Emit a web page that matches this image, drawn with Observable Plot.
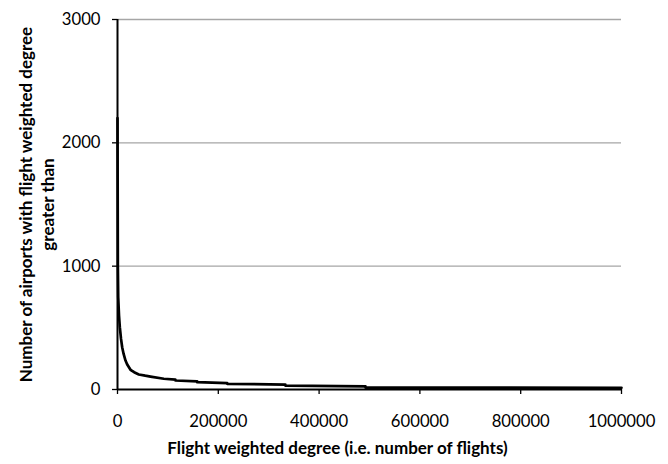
<!DOCTYPE html>
<html>
<head>
<meta charset="utf-8">
<script src="https://cdn.jsdelivr.net/npm/d3@7"></script>
<script src="https://cdn.jsdelivr.net/npm/@observablehq/plot@0.6"></script>
<style>
  html, body { margin: 0; padding: 0; background: #fff; }
  #chart { width: 668px; height: 464px; overflow: hidden; }
  svg { font-family: Lato, "Open Sans", sans-serif; }
</style>
</head>
<body>
<div id="chart"></div>
<script>
const degree = [0, 300, 700, 1400, 3000, 4600, 7000, 9300, 12000, 15900, 19000, 25800, 33000, 42300, 55000, 65500, 91900, 115000, 115000, 158000, 158000, 217600, 217600, 333000, 333000, 492000, 492000, 1000000];
const airports = [2200, 1700, 1000, 748, 600, 505, 410, 343, 290, 235, 205, 160, 140, 122, 112, 105, 87, 80, 73, 66, 59, 52, 46, 40, 32, 25, 16, 14];
const xTicks = [0, 200000, 400000, 600000, 800000, 1000000];
const yTicks = [0, 1000, 2000, 3000];
const xTitle = "Flight weighted degree (i.e. number of flights)";
const yTitle = "Number of airports with flight weighted degree\ngreater than";

const data = degree.map((d, i) => ({x: d, y: airports[i]}));

const chart = Plot.plot({
  width: 668,
  height: 464,
  marginLeft: 117,
  marginRight: 47,
  marginTop: 19,
  marginBottom: 75,
  style: {fontFamily: "Lato, 'Open Sans', sans-serif", background: "#fff"},
  x: {domain: [0, 1000000], ticks: xTicks, tickFormat: d => String(d)},
  y: {domain: [0, 3000], ticks: yTicks, tickFormat: d => String(d)},
  marks: [
    Plot.gridY(yTicks.filter(d => d > 0), {stroke: "#a6a6a6", strokeOpacity: 1, strokeWidth: 1.3}),
    Plot.axisX({ticks: xTicks, tickFormat: d => String(d), tickSize: 5, tickPadding: 21, fontSize: 16.7, label: null, stroke: "#000", strokeWidth: 1.3, fill: "#000"}),
    Plot.axisY({ticks: yTicks, tickFormat: d => String(d), tickSize: 5, tickPadding: 12, fontSize: 16.7, label: null, stroke: "#000", strokeWidth: 1.3, fill: "#000"}),
    Plot.line(data, {x: "x", y: "y", stroke: "#000", strokeWidth: 2.7, strokeLinejoin: "round"}),
    Plot.ruleY([0], {stroke: "#000", strokeWidth: 2}),
    Plot.ruleX([0], {stroke: "#000", strokeWidth: 2}),
    Plot.text([xTitle], {frameAnchor: "bottom", textAnchor: "middle", dx: -32, dy: 64.5, fontSize: 17, fontWeight: "bold", fill: "#000"}),
    Plot.text([yTitle], {frameAnchor: "left", textAnchor: "middle", dx: -82, rotate: -90, fontSize: 17, fontWeight: "bold", fill: "#000", lineHeight: 1.3})
  ]
});
document.getElementById("chart").appendChild(chart);
</script>
</body>
</html>
